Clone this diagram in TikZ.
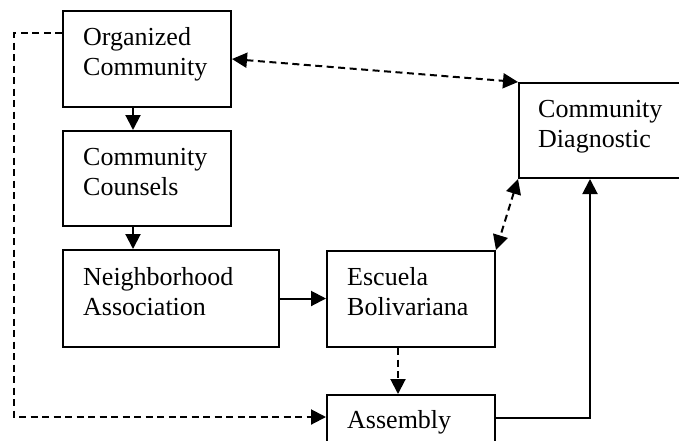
\documentclass[tikz,border=0pt]{standalone}
\usepackage{fontspec}
\setmainfont{Liberation Serif}
\usetikzlibrary{arrows.meta}
\begin{document}
\begin{tikzpicture}[x=1pt,y=1pt,
  box/.style={draw, line width=2pt, rectangle, inner sep=0pt, anchor=north west},
  lbl/.style={anchor=base west, align=left, inner sep=0pt, font=\fontsize{26}{30}\selectfont},
  conn/.style={line width=2pt, -{Triangle[length=15pt,width=15pt]}},
  dconn/.style={conn, dash pattern=on 7pt off 4.5pt},
  ddconn/.style={line width=2pt, dash pattern=on 7pt off 4.5pt, {Triangle[length=15pt,width=15pt]}-{Triangle[length=15pt,width=15pt]}}]
\useasboundingbox (0,0) rectangle (679,-440);
\node[box, minimum width=168pt, minimum height=96pt] (oc) at (62,-10) {};
\node[box, minimum width=168pt, minimum height=95pt] (cc) at (62,-130) {};
\node[box, minimum width=216pt, minimum height=97pt] (na) at (62,-249) {};
\node[box, minimum width=168pt, minimum height=96pt] (eb) at (326,-250) {};
\node[box, minimum width=180pt, minimum height=95pt] (cd) at (518,-82) {};
\node[box, minimum width=168pt, minimum height=96pt] (as) at (326,-394) {};
\node[lbl] (octx) at ([xshift=21pt,yshift=-65pt]oc.north west) {Organized\\Community};
\node[lbl] (cctx) at ([xshift=21pt,yshift=-65pt]cc.north west) {Community\\Counsels};
\node[lbl] (natx) at ([xshift=21pt,yshift=-66pt]na.north west) {Neighborhood\\Association};
\node[lbl] (ebtx) at ([xshift=21pt,yshift=-65pt]eb.north west) {Escuela\\Bolivariana};
\node[lbl] (cdtx) at ([xshift=20pt,yshift=-65pt]cd.north west) {Community\\Diagnostic};
\node[lbl] (astx) at ([xshift=21pt,yshift=-34pt]as.north west) {Assembly};
\draw[conn] ([xshift=71pt]oc.south west) -- ([xshift=71pt]cc.north west);
\draw[conn] ([xshift=71pt]cc.south west) -- ([xshift=71pt]na.north west);
\draw[conn] (na.east) -- (eb.west |- na.east);
\draw[dconn] ([xshift=72pt]eb.south west) -- ([xshift=72pt]as.north west);
\draw[ddconn] (oc.east) -- (cd.north west);
\draw[ddconn] (cd.south west) -- (eb.north east);
\draw[conn] ([yshift=-24pt]as.north east) -| ([xshift=72pt]cd.south west);
\coordinate (lft) at (14,-33);
\draw[dconn] ([yshift=-23pt]oc.north west) -- (lft) |- ([yshift=-23pt]as.north west);
\end{tikzpicture}
\end{document}
